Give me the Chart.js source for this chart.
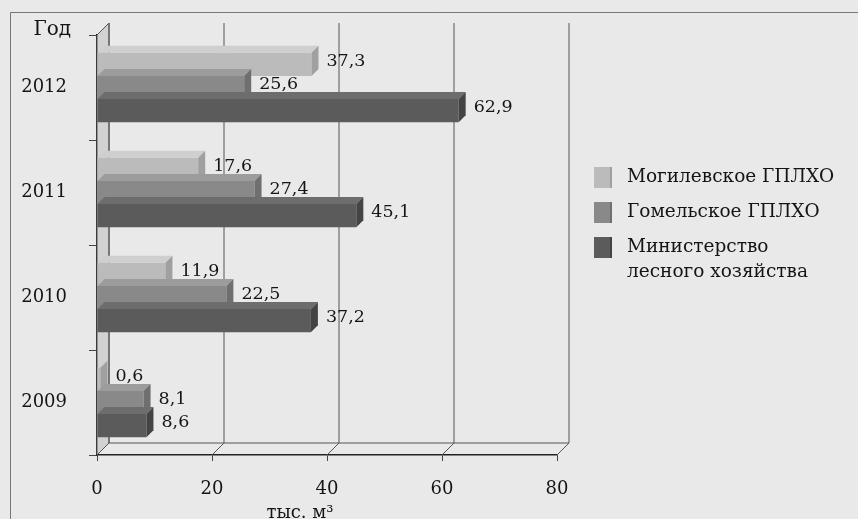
<!DOCTYPE html>
<html>
<head>
<meta charset="utf-8">
<script src="https://cdn.jsdelivr.net/npm/chart.js@4.4.0/dist/chart.umd.min.js"></script>
<style>
  html, body { margin: 0; padding: 0; background: #e9e9e9; }
  #wrap { width: 858px; height: 519px; position: relative; }
</style>
</head>
<body>
<div id="wrap"><canvas id="chart" width="858" height="519"></canvas></div>
<script>
const years = ['2012', '2011', '2010', '2009'];
const mogilev = [37.3, 17.6, 11.9, 0.6];
const gomel = [25.6, 27.4, 22.5, 8.1];
const ministry = [62.9, 45.1, 37.2, 8.6];
const seriesNames = ['Могилевское ГПЛХО', 'Гомельское ГПЛХО', 'Министерство лесного хозяйства'];
const xTicks = [0, 20, 40, 60, 80];

const FONT = "'DejaVu Serif', 'Liberation Serif', serif";
const TEXT = '#151515';
const WALL = 12;   // depth of walls
const BAR = 7;     // depth of bars

const fronts = ['#bbbbbb', '#898989', '#5b5b5b'];
const tops = ['#cfcfcf', '#9c9c9c', '#6d6d6d'];
const sides = ['#a0a0a0', '#6f6f6f', '#444444'];

const fmt = v => String(v).replace('.', ',');

const depth3d = {
  id: 'depth3d',
  beforeDatasetsDraw(chart) {
    const { ctx, chartArea: a, scales: { x } } = chart;
    ctx.save();
    // left side wall
    ctx.fillStyle = '#d2d2d2';
    ctx.strokeStyle = '#555';
    ctx.lineWidth = 1;
    ctx.beginPath();
    ctx.moveTo(a.left, a.top);
    ctx.lineTo(a.left + WALL, a.top - WALL);
    ctx.lineTo(a.left + WALL, a.bottom - WALL);
    ctx.lineTo(a.left, a.bottom);
    ctx.closePath();
    ctx.fill();
    ctx.stroke();
    // floor back edge
    ctx.beginPath();
    ctx.moveTo(a.left + WALL, a.bottom - WALL);
    ctx.lineTo(a.right + WALL, a.bottom - WALL);
    ctx.stroke();
    // back wall grid + floor diagonals
    xTicks.forEach(v => {
      const px = x.getPixelForValue(v);
      ctx.beginPath();
      ctx.moveTo(px + WALL, a.top - WALL);
      ctx.lineTo(px + WALL, a.bottom - WALL);
      ctx.moveTo(px, a.bottom);
      ctx.lineTo(px + WALL, a.bottom - WALL);
      ctx.stroke();
    });
    ctx.restore();
  },
  afterDatasetsDraw(chart) {
    const { ctx } = chart;
    ctx.save();
    const bars = [];
    chart.data.datasets.forEach((ds, di) => {
      const meta = chart.getDatasetMeta(di);
      meta.data.forEach((el, i) => {
        const p = el.getProps(['x', 'base', 'y', 'height'], true);
        const y0 = p.y - p.height / 2, y1 = p.y + p.height / 2;
        ctx.fillStyle = tops[di];
        ctx.beginPath();
        ctx.moveTo(p.base, y0);
        ctx.lineTo(p.base + BAR, y0 - BAR);
        ctx.lineTo(p.x + BAR, y0 - BAR);
        ctx.lineTo(p.x, y0);
        ctx.closePath();
        ctx.fill();
        ctx.fillStyle = sides[di];
        ctx.beginPath();
        ctx.moveTo(p.x, y0);
        ctx.lineTo(p.x + BAR, y0 - BAR);
        ctx.lineTo(p.x + BAR, y1 - BAR);
        ctx.lineTo(p.x, y1);
        ctx.closePath();
        ctx.fill();
        bars.push({ x: p.x, y: p.y, v: ds.data[i] });
      });
    });
    ctx.fillStyle = TEXT;
    ctx.font = '17.5px ' + FONT;
    ctx.textAlign = 'left';
    ctx.textBaseline = 'middle';
    bars.forEach(b => ctx.fillText(fmt(b.v), b.x + BAR + 8, b.y - 3));
    ctx.restore();
  },
  afterDraw(chart) {
    const { ctx, chartArea: a } = chart;
    ctx.save();
    // outer frame of the figure
    ctx.strokeStyle = '#777';
    ctx.lineWidth = 1;
    ctx.beginPath();
    ctx.moveTo(10.5, 519);
    ctx.lineTo(10.5, 12.5);
    ctx.lineTo(858, 12.5);
    ctx.stroke();

    ctx.fillStyle = TEXT;
    ctx.font = '20px ' + FONT;
    ctx.textBaseline = 'middle';
    ctx.textAlign = 'right';
    ctx.fillText('Год', a.left - 26, a.top - 5);
    ctx.textAlign = 'center';
    ctx.font = '18px ' + FONT;
    ctx.fillText('тыс. м³', a.left + 203, 513);

    // legend
    ctx.textAlign = 'left';
    ctx.font = '18.5px ' + FONT;
    const lx = a.right + 37;
    let ly = 177;
    chart.data.datasets.forEach((ds, di) => {
      ctx.fillStyle = fronts[di];
      ctx.fillRect(lx, ly - 10, 18, 21);
      ctx.fillStyle = sides[di];
      ctx.fillRect(lx + 16, ly - 10, 2, 21);
      ctx.fillStyle = TEXT;
      const words = ds.label.split(' ');
      const lines = [];
      let cur = '';
      words.forEach(w => {
        const t = cur ? cur + ' ' + w : w;
        if (cur && ctx.measureText(t).width > 212) { lines.push(cur); cur = w; } else cur = t;
      });
      lines.push(cur);
      lines.forEach((ln, k) => ctx.fillText(ln, lx + 33, ly + k * 25));
      ly += 35 + (lines.length - 1) * 25;
    });
    ctx.restore();
  }
};

new Chart(document.getElementById('chart'), {
  type: 'bar',
  data: {
    labels: years,
    datasets: [
      { label: seriesNames[0], data: mogilev, backgroundColor: fronts[0] },
      { label: seriesNames[1], data: gomel, backgroundColor: fronts[1] },
      { label: seriesNames[2], data: ministry, backgroundColor: fronts[2] }
    ]
  },
  options: {
    indexAxis: 'y',
    responsive: false,
    animation: false,
    categoryPercentage: 0.66,
    barPercentage: 1.0,
    layout: { padding: { left: 0, right: 301, top: 35, bottom: 0 } },
    plugins: {
      legend: { display: false },
      tooltip: { enabled: false }
    },
    scales: {
      x: {
        min: 0,
        max: 80,
        ticks: { stepSize: 20, padding: 18, color: TEXT, font: { family: FONT, size: 18 } },
        grid: { drawOnChartArea: false, drawTicks: true, tickLength: 6, color: '#444' },
        border: { color: '#222', width: 1.5 },
        afterFit(s) { s.height = 64; }
      },
      y: {
        ticks: { padding: 22, color: TEXT, font: { family: FONT, size: 18 } },
        grid: { drawOnChartArea: false, drawTicks: true, tickLength: 8, color: '#444', offset: true },
        border: { color: '#222', width: 1.5 },
        afterFit(s) { s.width = 97; }
      }
    }
  },
  plugins: [depth3d]
});
</script>
</body>
</html>
